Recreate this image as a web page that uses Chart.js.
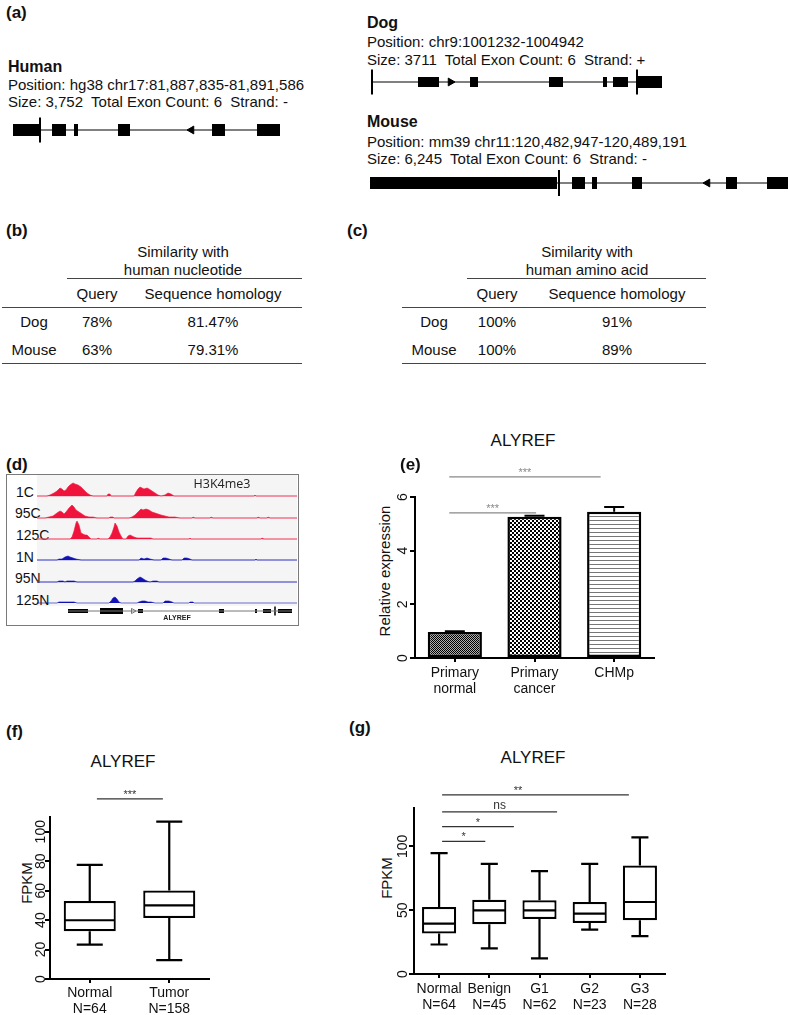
<!DOCTYPE html>
<html>
<head>
<meta charset="utf-8">
<title>ALYREF</title>
<script src="https://cdn.jsdelivr.net/npm/chart.js@4.4.1/dist/chart.umd.min.js"></script>
<style>
  body { margin:0; background:#fff; font-family:"Liberation Sans", Arial, sans-serif; color:#111; }
  #page { position:relative; width:789px; height:1015px; overflow:hidden; }
  .t { position:absolute; white-space:pre; line-height:1.15; transform:translate(0,-50%); font-size:15px; }
  .c { transform:translate(-50%,-50%); }
  .r { transform:translate(-50%,-50%) rotate(-90deg); color:#111; }
  .p { font-weight:bold; font-size:17px; }
  .b { font-weight:bold; font-size:16px; }
  .hr { position:absolute; height:0; border-top:1.5px solid #444; }
  .tl { font-size:14px; }
  canvas { position:absolute; }
</style>
</head>
<body>
<div id="page">

<!-- (a) -->
<div class="t p" style="left:6px;top:13px">(a)</div>
<div class="t b" style="left:8px;top:67px">Human</div>
<div class="t" style="left:8px;top:85px">Position: hg38 chr17:81,887,835-81,891,586</div>
<div class="t" style="left:8px;top:102px">Size: 3,752  Total Exon Count: 6  Strand: -</div>
<canvas id="human" width="280" height="30" style="left:8px;top:115px"></canvas>

<div class="t b" style="left:367px;top:23px">Dog</div>
<div class="t" style="left:367px;top:42px">Position: chr9:1001232-1004942</div>
<div class="t" style="left:367px;top:60px">Size: 3711  Total Exon Count: 6  Strand: +</div>
<canvas id="dog" width="300" height="30" style="left:365px;top:67px"></canvas>

<div class="t b" style="left:367px;top:122px">Mouse</div>
<div class="t" style="left:367px;top:142px">Position: mm39 chr11:120,482,947-120,489,191</div>
<div class="t" style="left:367px;top:159px">Size: 6,245  Total Exon Count: 6  Strand: -</div>
<canvas id="mouse" width="424" height="30" style="left:365px;top:168px"></canvas>

<!-- (b) -->
<div class="t p" style="left:6px;top:231px">(b)</div>
<div class="t c" style="left:183px;top:252px">Similarity with</div>
<div class="t c" style="left:183px;top:270px">human nucleotide</div>
<div class="hr" style="left:67px;top:278px;width:235px"></div>
<div class="t c" style="left:97px;top:294px">Query</div>
<div class="t c" style="left:213px;top:294px">Sequence homology</div>
<div class="hr" style="left:2px;top:307px;width:300px"></div>
<div class="t c" style="left:34px;top:322px">Dog</div>
<div class="t c" style="left:97px;top:322px">78%</div>
<div class="t c" style="left:213px;top:322px">81.47%</div>
<div class="t c" style="left:34px;top:350px">Mouse</div>
<div class="t c" style="left:97px;top:350px">63%</div>
<div class="t c" style="left:213px;top:350px">79.31%</div>
<div class="hr" style="left:2px;top:363px;width:300px"></div>

<!-- (c) -->
<div class="t p" style="left:347px;top:231px">(c)</div>
<div class="t c" style="left:587px;top:252px">Similarity with</div>
<div class="t c" style="left:587px;top:270px">human amino acid</div>
<div class="hr" style="left:467px;top:278px;width:239px"></div>
<div class="t c" style="left:497px;top:294px">Query</div>
<div class="t c" style="left:617px;top:294px">Sequence homology</div>
<div class="hr" style="left:402px;top:307px;width:304px"></div>
<div class="t c" style="left:434px;top:322px">Dog</div>
<div class="t c" style="left:497px;top:322px">100%</div>
<div class="t c" style="left:617px;top:322px">91%</div>
<div class="t c" style="left:434px;top:350px">Mouse</div>
<div class="t c" style="left:497px;top:350px">100%</div>
<div class="t c" style="left:617px;top:350px">89%</div>
<div class="hr" style="left:402px;top:363px;width:304px"></div>

<!-- (d) -->
<div class="t p" style="left:6px;top:465px">(d)</div>
<div style="position:absolute;left:6px;top:474px;width:291px;height:150px;border:1px solid #7a7a7a"></div>
<div style="position:absolute;left:37px;top:475px;width:260px;height:131px;background:#f5f5f5"></div>
<div class="t tl" style="left:16px;top:492px">1C</div>
<div class="t tl" style="left:15px;top:513px">95C</div>
<div class="t tl" style="left:16px;top:535px">125C</div>
<div class="t tl" style="left:16px;top:557px">1N</div>
<div class="t tl" style="left:15px;top:578px">95N</div>
<div class="t tl" style="left:16px;top:600px">125N</div>
<canvas id="t1C" width="260" height="22" style="left:37px;top:475px"></canvas>
<canvas id="t95C" width="260" height="22" style="left:37px;top:497px"></canvas>
<canvas id="t125C" width="260" height="22" style="left:37px;top:518px"></canvas>
<canvas id="t1N" width="260" height="22" style="left:37px;top:539px"></canvas>
<canvas id="t95N" width="260" height="22" style="left:37px;top:561px"></canvas>
<canvas id="t125N" width="260" height="22" style="left:37px;top:582px"></canvas>
<div class="t c" style="left:222px;top:484px;font-family:'Open Sans',sans-serif;font-size:12.5px;color:#222">H3K4me3</div>
<canvas id="alyrefGene" width="260" height="16" style="left:37px;top:603px"></canvas>
<div class="t c" style="left:177px;top:618px;font-size:7px;font-weight:bold;color:#222">ALYREF</div>

<!-- (e) -->
<div class="t p" style="left:400px;top:465px">(e)</div>
<div class="t c" style="left:523px;top:441px;font-size:17px">ALYREF</div>
<div class="t r" style="left:385px;top:571px">Relative expression</div>
<canvas id="chartE" width="280" height="240" style="left:380px;top:460px"></canvas>

<!-- (f) -->
<div class="t p" style="left:6px;top:732px">(f)</div>
<div class="t c" style="left:123px;top:762px;font-size:17px">ALYREF</div>
<div class="t r" style="left:27px;top:883px">FPKM</div>
<canvas id="chartF" width="195" height="235" style="left:20px;top:780px"></canvas>

<!-- (g) -->
<div class="t p" style="left:349px;top:728px">(g)</div>
<div class="t c" style="left:533px;top:758px;font-size:17px">ALYREF</div>
<div class="t r" style="left:387px;top:878px">FPKM</div>
<canvas id="chartG" width="290" height="245" style="left:380px;top:770px"></canvas>

</div>

<script>
// (a) gene models, positions along each drawn model
const humanExons = [[5,32],[44,58],[66,70],[110,122],[204,217],[249,272]];
const humanUtr = [];
const humanIntron = [32,249];
const humanTicks = [32];
const humanArrows = [183.5];

const dogExons = [[53,74],[105,113],[184,198],[238,242],[248,263]];
const dogUtr = [[273,297]];
const dogIntron = [7,273];
const dogTicks = [7,272];
const dogArrows = [85.5];

const mouseExons = [[207,220],[227,232],[267,277],[361,372],[402,423]];
const mouseUtr = [[5,192]];
const mouseIntron = [192,402];
const mouseTicks = [194];
const mouseArrows = [342.5];

// (d) H3K4me3 coverage, [position, height]
const cov1C = [[0,0],[10,0],[13,1],[17,3],[20,5],[23,8],[25,7],[27,5],[29,6],[31,9],[33,11],[36,13],[38,12],[41,11],[44,9],[47,6],[50,3],[53,1],[56,0],[70,0],[71,2],[73,2],[74,0],[97,0],[99,4],[101,7],[103,9],[105,8],[107,7],[110,8],[112,7],[115,5],[118,3],[121,1],[124,0],[128,1],[131,3],[134,2],[137,0],[217,0],[218,1],[219,0],[260,0]];
const cov95C = [[0,0],[8,0],[12,1],[16,2],[20,5],[23,7],[25,6],[27,4],[29,6],[32,10],[35,13],[37,11],[39,8],[42,6],[45,4],[48,2],[52,1],[56,1],[60,0],[72,0],[73,1],[76,1],[77,0],[92,0],[95,1],[98,3],[101,6],[104,9],[106,8],[109,9],[112,8],[115,6],[118,5],[121,4],[124,3],[128,2],[132,1],[138,1],[143,0],[155,0],[156,1],[158,0],[173,0],[174,1],[176,0],[220,0],[221,1],[223,0],[230,0],[231,1],[233,0],[260,0]];
const cov125C = [[0,0],[33,0],[35,2],[37,8],[39,16],[40,18],[42,14],[44,6],[46,5],[48,4],[50,4],[52,2],[54,0],[60,0],[61,1],[63,0],[71,0],[73,2],[75,6],[77,12],[78,16],[80,13],[82,7],[84,3],[86,0],[89,0],[91,3],[93,4],[95,3],[97,2],[100,1],[108,1],[114,1],[116,0],[152,0],[153,1],[154,0],[224,0],[225,1],[227,0],[260,0]];
const cov1N = [[0,0],[20,0],[22,1],[25,1],[28,3],[31,4],[33,3],[36,2],[39,1],[44,0],[102,0],[104,2],[107,1],[110,2],[113,1],[117,0],[124,0],[126,2],[129,2],[132,1],[135,0],[145,0],[147,2],[150,2],[153,1],[155,0],[218,0],[219,1],[220,0],[260,0]];
const cov95N = [[0,0],[20,0],[22,1],[26,1],[28,0],[30,1],[34,1],[37,1],[40,0],[96,0],[98,1],[100,3],[103,5],[105,4],[108,2],[110,1],[113,0],[116,1],[120,1],[122,0],[260,0]];
const cov125N = [[0,0],[20,0],[22,1],[27,1],[32,1],[37,1],[40,0],[72,0],[74,2],[76,5],[78,6],[80,4],[82,1],[84,0],[100,0],[102,1],[105,2],[108,2],[111,1],[114,1],[118,0],[126,0],[128,2],[132,2],[135,1],[137,0],[152,0],[153,1],[156,1],[157,0],[260,0]];
const alyrefExons = [[31,51],[101,106],[182,187],[218,220],[226,234],[241,255]];
const alyrefThick = [[63,86]];
const alyrefIntron = [31,255];
const alyrefTicks = [238];
const alyrefArrows = [96];

// (e) relative expression
const eLabels = [['Primary','normal'],['Primary','cancer'],'CHMp'];
const eMeans = [0.97, 5.26, 5.45];
const eErr = [0.03, 0.04, 0.18];
const eTicks = [0, 2, 4, 6];
const eSig = [
  {from:-0.07, to:1.83, y:6.75, text:'***'},
  {from:-0.07, to:1.02, y:5.41, text:'***'}
];

// (f) FPKM normal vs tumor
const fLabels = [['Normal','N=64'],['Tumor','N=158']];
const fMin = [23.4, 12.8];
const fQ1 = [32.4, 41.4];
const fMed = [39.9, 50];
const fQ3 = [52.9, 60.1];
const fMax = [77.5, 106.8];
const fTicks = [0, 20, 40, 60, 80, 100];
const fSig = [{from:0.09, to:0.92, y:122.3, text:'***'}];

// (g) FPKM by grade
const gLabels = [['Normal','N=64'],['Benign','N=45'],['G1','N=62'],['G2','N=23'],['G3','N=28']];
const gMin = [23.1, 20, 12.2, 34.8, 29.6];
const gQ1 = [31.7, 39, 43.1, 40, 42.1];
const gMed = [39.5, 49.9, 49.9, 47.3, 56.4];
const gQ3 = [52.5, 58.2, 57.7, 56.4, 85];
const gMax = [94.6, 86.3, 80.5, 86.3, 107];
const gTicks = [0, 50, 100];
const gSig = [
  {from:0.06, to:0.92, y:103.9, text:'*'},
  {from:0.06, to:1.49, y:115.4, text:'*'},
  {from:0.06, to:2.35, y:127, text:'ns'},
  {from:0.06, to:3.78, y:140.3, text:'**', at:1.57}
];

const font = "'Liberation Sans', Arial, sans-serif";
const noUi = { legend:{display:false}, tooltip:{enabled:false}, colors:{enabled:false} };

// horizontal pieces as one line dataset, broken by null gaps
function pieces(list) {
  const out = [];
  list.forEach(s => out.push({x:s[0], y:0}, {x:s[1], y:0}, {x:s[1], y:null}));
  return out;
}
function upright(list, r) {
  const out = [];
  list.forEach(v => out.push({x:v, y:-r}, {x:v, y:r}, {x:v, y:null}));
  return out;
}

function geneChart(id, g) {
  const cv = document.getElementById(id);
  const r = g.tick / (cv.height / 2);
  const seg = (data, w, color) => ({type:'line', data:data, borderColor:color, borderWidth:w,
    borderCapStyle:'butt', pointRadius:0, spanGaps:false, fill:false});
  new Chart(cv, {
    type:'scatter',
    data:{datasets:[
      seg(pieces([g.intron]), 1, g.line),
      seg(pieces(g.exons), g.h, g.color),
      seg(pieces(g.utr), g.hu, g.color),
      seg(upright(g.ticks, r), g.tw, g.color),
      {type:'scatter', data:g.arrows.map(v => ({x:v, y:0})), pointStyle:'triangle', pointRotation:g.dir,
       pointRadius:g.ar, pointBackgroundColor:g.arrowFill, pointBorderColor:g.line, pointBorderWidth:1}
    ]},
    options:{responsive:false, animation:false, events:[], plugins:noUi, layout:{padding:0, autoPadding:false},
      scales:{x:{type:'linear', min:0, max:cv.width, display:false},
              y:{type:'linear', min:-1, max:1, display:false}}}
  });
}

geneChart('human', {exons:humanExons, utr:humanUtr, intron:humanIntron, ticks:humanTicks, arrows:humanArrows,
  dir:270, h:12, hu:13, tick:12.5, tw:2, ar:4.5, color:'#000', line:'#000', arrowFill:'#000'});
geneChart('dog', {exons:dogExons, utr:dogUtr, intron:dogIntron, ticks:dogTicks, arrows:dogArrows,
  dir:90, h:10, hu:12, tick:12.5, tw:2, ar:4.5, color:'#000', line:'#000', arrowFill:'#000'});
geneChart('mouse', {exons:mouseExons, utr:mouseUtr, intron:mouseIntron, ticks:mouseTicks, arrows:mouseArrows,
  dir:270, h:12, hu:12, tick:13, tw:2, ar:4.5, color:'#000', line:'#000', arrowFill:'#000'});
geneChart('alyrefGene', {exons:alyrefExons, utr:alyrefThick, intron:alyrefIntron, ticks:alyrefTicks, arrows:alyrefArrows,
  dir:90, h:4, hu:6, tick:4.5, tw:1.5, ar:3, color:'#000', line:'#777', arrowFill:'#fff'});

function track(id, pts, fill, base) {
  const sets = [{type:'line', data:pts.map(p => ({x:p[0], y:p[1]})), fill:'origin', backgroundColor:fill,
                 borderColor:fill, borderWidth:0.6, pointRadius:0}];
  if (base) sets.push({type:'line', data:[{x:0, y:0}, {x:260, y:0}], borderColor:base, borderWidth:1, pointRadius:0});
  new Chart(document.getElementById(id), {
    type:'scatter',
    data:{datasets:sets},
    options:{responsive:false, animation:false, events:[], plugins:noUi, layout:{padding:0, autoPadding:false},
      scales:{x:{type:'linear', min:0, max:260, display:false}, y:{type:'linear', min:-1, max:21, display:false}}}
  });
}
const red = '#f0143c', blue = '#1212b4';
track('t1C', cov1C, red, '#f39aab');
track('t95C', cov95C, red, '#f39aab');
track('t125C', cov125C, red, '#f39aab');
track('t1N', cov1N, blue, '#9a9ae4');
track('t95N', cov95N, blue, '#9a9ae4');
track('t125N', cov125N, blue, null);

function pat(kind) {
  const c = document.createElement('canvas');
  c.width = 4; c.height = 4;
  const x = c.getContext('2d');
  x.fillStyle = kind === 'fine' ? '#b0b0b0' : '#fff';
  x.fillRect(0, 0, 4, 4);
  x.fillStyle = '#000';
  if (kind === 'fine') {
    for (let i = 0; i < 4; i++) for (let j = 0; j < 4; j++) if ((i + j) % 2 === 0) x.fillRect(i, j, 1, 1);
  } else if (kind === 'check') {
    x.fillRect(0, 0, 2, 2); x.fillRect(2, 2, 2, 2);
  } else {
    x.fillStyle = '#777'; x.fillRect(0, 0, 4, 1);
  }
  return x.createPattern(c, 'repeat');
}

function xAxis(h, pad) {
  return {grid:{offset:false, drawOnChartArea:false, tickLength:4, color:'#000', lineWidth:2},
    border:{color:'#000', width:2},
    ticks:{color:'#111', font:{family:font, size:14, lineHeight:1.15}, padding:pad, autoSkip:false, maxRotation:0},
    afterFit:s => { s.height = h; }};
}
function yAxis(max, tickVals, w, pad) {
  return {min:0, max:max,
    grid:{drawOnChartArea:false, tickLength:5, color:'#000', lineWidth:2},
    border:{color:'#000', width:2},
    ticks:{autoSkip:false, color:'#111', font:{family:font, size:14}, padding:pad,
           minRotation:90, maxRotation:90, crossAlign:'center'},
    afterBuildTicks:s => { s.ticks = tickVals.map(v => ({value:v})); },
    afterFit:s => { s.width = w; }};
}

function sigPlugin(list, color) {
  return {id:'sig', afterDraw(chart) {
    const {x, y} = chart.scales, ctx = chart.ctx;
    ctx.save();
    ctx.strokeStyle = color; ctx.fillStyle = color; ctx.lineWidth = 1.2;
    ctx.textAlign = 'center'; ctx.textBaseline = 'alphabetic';
    list.forEach(s => {
      const py = y.getPixelForValue(s.y), x0 = x.getPixelForValue(s.from), x1 = x.getPixelForValue(s.to);
      ctx.beginPath(); ctx.moveTo(x0, py); ctx.lineTo(x1, py); ctx.stroke();
      ctx.font = (s.text === 'ns' ? '12px ' : '11px ') + font;
      const tx = s.at !== undefined ? x.getPixelForValue(s.at) : (x0 + x1) / 2;
      ctx.fillText(s.text, tx, py - (s.text === 'ns' ? 3 : 1));
    });
    ctx.restore();
  }};
}

function errorPlugin(means, errs) {
  return {id:'errbars', afterDatasetsDraw(chart) {
    const y = chart.scales.y, ctx = chart.ctx;
    ctx.save(); ctx.strokeStyle = '#000'; ctx.lineWidth = 2;
    chart.getDatasetMeta(0).data.forEach((bar, i) => {
      const top = y.getPixelForValue(means[i] + errs[i]);
      ctx.beginPath();
      ctx.moveTo(bar.x, bar.y); ctx.lineTo(bar.x, top);
      ctx.moveTo(bar.x - 10, top); ctx.lineTo(bar.x + 10, top);
      ctx.stroke();
    });
    ctx.restore();
  }};
}

function whiskerPlugin(lo, med, hi) {
  return {id:'whiskers', afterDatasetsDraw(chart) {
    const y = chart.scales.y, ctx = chart.ctx;
    ctx.save(); ctx.strokeStyle = '#000'; ctx.lineWidth = 2.2;
    chart.getDatasetMeta(0).data.forEach((box, i) => {
      const w = box.width / 2, c = w / 2;
      const yl = y.getPixelForValue(lo[i]), ym = y.getPixelForValue(med[i]), yh = y.getPixelForValue(hi[i]);
      const top = Math.min(box.y, box.base), bot = Math.max(box.y, box.base);
      ctx.beginPath();
      ctx.moveTo(box.x, top); ctx.lineTo(box.x, yh);
      ctx.moveTo(box.x - c, yh); ctx.lineTo(box.x + c, yh);
      ctx.moveTo(box.x, bot); ctx.lineTo(box.x, yl);
      ctx.moveTo(box.x - c, yl); ctx.lineTo(box.x + c, yl);
      ctx.moveTo(box.x - w + 1, ym); ctx.lineTo(box.x + w - 1, ym);
      ctx.stroke();
    });
    ctx.restore();
  }};
}

new Chart(document.getElementById('chartE'), {
  type:'bar',
  data:{labels:eLabels, datasets:[{data:eMeans, backgroundColor:[pat('fine'), pat('check'), pat('stripe')],
    borderColor:'#000', borderWidth:2.5, borderSkipped:false, barPercentage:0.68, categoryPercentage:1}]},
  options:{responsive:false, animation:false, events:[], plugins:noUi,
    layout:{padding:{top:37, right:6}, autoPadding:false},
    scales:{x:xAxis(42, 3), y:yAxis(6, eTicks, 35, 3)}},
  plugins:[errorPlugin(eMeans, eErr), sigPlugin(eSig, '#888')]
});

function boxChart(id, labels, q1, q3, lo, med, hi, sig, pct, padTop, padRight, xh, xpad, ymax, tickVals, yw, ypad) {
  new Chart(document.getElementById(id), {
    type:'bar',
    data:{labels:labels, datasets:[{data:q1.map((v, i) => [v, q3[i]]), backgroundColor:'#fff',
      borderColor:'#000', borderWidth:2.2, borderSkipped:false, barPercentage:pct, categoryPercentage:1}]},
    options:{responsive:false, animation:false, events:[], plugins:noUi,
      layout:{padding:{top:padTop, right:padRight}, autoPadding:false},
      scales:{x:xAxis(xh, xpad), y:yAxis(ymax, tickVals, yw, ypad)}},
    plugins:[whiskerPlugin(lo, med, hi), sigPlugin(sig, '#333')]
  });
}
boxChart('chartF', fLabels, fQ1, fQ3, fMin, fMed, fMax, fSig, 0.655, 37, 6, 36, 2, 110, fTicks, 30, -8);
boxChart('chartG', gLabels, gQ1, gQ3, gMin, gMed, gMax, gSig, 0.68, 38, 5, 41, 3, 130, gTicks, 34, -6);
</script>
</body>
</html>
